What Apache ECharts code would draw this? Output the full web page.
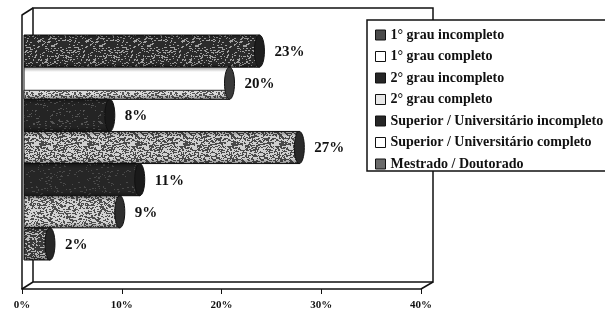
<!DOCTYPE html>
<html><head><meta charset="utf-8">
<script src="https://cdn.jsdelivr.net/npm/echarts@6/dist/echarts.min.js"></script>
<style>html,body{margin:0;padding:0;background:#fff}#c{width:605px;height:316px}</style>
</head><body><div id="c"></div>
<script>
// ---- data ----
const categories = ['1° grau incompleto', '1° grau completo', '2° grau incompleto', '2° grau completo',
  'Superior / Universitário incompleto', 'Superior / Universitário completo', 'Mestrado / Doutorado'];
const values = [23, 20, 8, 27, 11, 9, 2];
const xTickValues = [0, 10, 20, 30, 40];

// ---- styles ----
function speckle(base, dot, density, seed) {
  const c = document.createElement('canvas');
  c.width = 48; c.height = 48;
  const g = c.getContext('2d');
  g.fillStyle = base; g.fillRect(0, 0, 48, 48);
  g.fillStyle = dot;
  for (let y = 0; y < 48; y++) for (let x = 0; x < 48; x++) {
    let h = (x * 374761393 + y * 668265263 + seed * 982451653) | 0;
    h = (h ^ (h >>> 13)) * 1274126177 | 0; h = h ^ (h >>> 16);
    if (((h >>> 0) % 100) < density) g.fillRect(x, y, 1 + ((h >>> 8) & 1), 1);
  }
  return { image: c, repeat: 'repeat' };
}
const barLooks = [
  { fill: speckle('#2b2b2b', '#a0a0a0', 16, 1), cap: '#1e1e1e', legend: '#4a4a4a' },
  { fill: '#ffffff', lower: speckle('#d8d8d8', '#555', 30, 2), cap: '#3a3a3a', legend: '#ffffff' },
  { fill: speckle('#242424', '#555', 6, 3), cap: '#1a1a1a', legend: '#262626' },
  { fill: speckle('#cfcfcf', '#4a4a4a', 36, 4), cap: '#2a2a2a', legend: '#e8e8e8' },
  { fill: speckle('#262626', '#4a4a4a', 6, 5), cap: '#1a1a1a', legend: '#262626' },
  { fill: speckle('#d2d2d2', '#4f4f4f', 34, 6), cap: '#2e2e2e', legend: '#ffffff' },
  { fill: speckle('#3a3a3a', '#b5b5b5', 22, 7), cap: '#262626', legend: '#6a6a6a' }
];
const serif = "'Liberation Serif', 'DejaVu Serif', serif";

function makeRender(idx) {
  const look = barLooks[idx];
  return function (params, api) {
    const v = api.value(0), cat = api.value(1);
    const s = api.coord([0, cat]);
    const e = api.coord([v, cat]);
    const h = api.size([0, 1])[1];
    const y0 = s[1] - h / 2;
    const capX = e[0] + 8;
    const x0 = s[0] + 2;
    const children = [
      { type: 'rect', shape: { x: x0, y: y0, width: capX - x0, height: h },
        style: { fill: look.fill, stroke: '#111', lineWidth: 1 } }
    ];
    if (look.lower) {
      children.push({ type: 'rect', shape: { x: x0, y: y0 + h * 0.72, width: capX - x0, height: h * 0.28 },
        style: { fill: look.lower, stroke: '#222', lineWidth: 1 } });
    }
    children.push({ type: 'rect', shape: { x: x0, y: y0, width: capX - x0, height: h },
      style: { fill: { type: 'linear', x: 0, y: 0, x2: 0, y2: 1, colorStops: [
        { offset: 0, color: 'rgba(0,0,0,0.35)' }, { offset: 0.15, color: 'rgba(0,0,0,0)' },
        { offset: 0.85, color: 'rgba(0,0,0,0)' }, { offset: 1, color: 'rgba(0,0,0,0.35)' }] } } });
    children.push({ type: 'ellipse', shape: { cx: capX, cy: s[1], rx: 5, ry: h / 2 },
      style: { fill: look.cap, stroke: '#111', lineWidth: 1 } });
    children.push({ type: 'text', x: capX + 15, y: s[1] + 1,
      style: { text: v + '%', fill: '#111', font: 'bold 15px ' + serif, textAlign: 'left', textVerticalAlign: 'middle' } });
    return { type: 'group', children: children };
  };
}

const series = categories.map((name, i) => ({
  name: name, type: 'custom', xAxisIndex: 2, yAxisIndex: 2,
  renderItem: makeRender(i),
  encode: { x: 0, y: 1 },
  itemStyle: { color: barLooks[i].legend, borderColor: '#111', borderWidth: 1 },
  data: [[values[i], name]],
  z: 5
}));

const chart = echarts.init(document.getElementById('c'), null, { renderer: 'canvas' });
chart.setOption({
  animation: false,
  backgroundColor: '#fff',
  grid: [
    { left: 22, width: 399, top: 15, bottom: 27, show: false },
    { left: 33, width: 400, top: 8, bottom: 34, show: true, borderColor: '#111', borderWidth: 1.5, backgroundColor: 'transparent' },
    { left: 22, width: 399, top: 35, bottom: 56, show: false }
  ],
  xAxis: [
    { gridIndex: 0, type: 'value', min: xTickValues[0], max: xTickValues[xTickValues.length - 1], interval: 10,
      axisLine: { show: true, lineStyle: { color: '#111', width: 1.5 } },
      axisTick: { show: true, length: 5, lineStyle: { color: '#111' } },
      splitLine: { show: false },
      axisLabel: { formatter: '{value}%', margin: 11, color: '#111', fontFamily: serif, fontWeight: 'bold', fontSize: 11 } },
    { gridIndex: 1, type: 'value', show: false },
    { gridIndex: 2, type: 'value', min: 0, max: 40, show: false }
  ],
  yAxis: [
    { gridIndex: 0, type: 'value', axisLine: { show: true, lineStyle: { color: '#111', width: 1.5 } },
      axisTick: { show: false }, axisLabel: { show: false }, splitLine: { show: false } },
    { gridIndex: 1, type: 'value', show: false },
    { gridIndex: 2, type: 'category', data: categories, inverse: true, show: false }
  ],
  legend: {
    orient: 'vertical', left: 367, top: 20,
    padding: [8, 30, 0, 8],
    backgroundColor: '#fff', borderColor: '#111', borderWidth: 1.5,
    icon: 'rect', itemWidth: 10, itemHeight: 10, itemGap: 7.5,
    itemStyle: { borderColor: '#111', borderWidth: 1 },
    textStyle: { color: '#111', fontFamily: serif, fontWeight: 'bold', fontSize: 14, lineHeight: 14 },
    data: categories,
    z: 10
  },
  graphic: [
    { type: 'line', shape: { x1: 22, y1: 15, x2: 33, y2: 8 }, style: { stroke: '#111', lineWidth: 1.5 }, z: 1 },
    { type: 'line', shape: { x1: 22, y1: 289, x2: 33, y2: 282 }, style: { stroke: '#111', lineWidth: 1.5 }, z: 1 },
    { type: 'line', shape: { x1: 421, y1: 289, x2: 433, y2: 282 }, style: { stroke: '#111', lineWidth: 1.5 }, z: 1 }
  ],
  series: series
});
</script>
</body></html>
